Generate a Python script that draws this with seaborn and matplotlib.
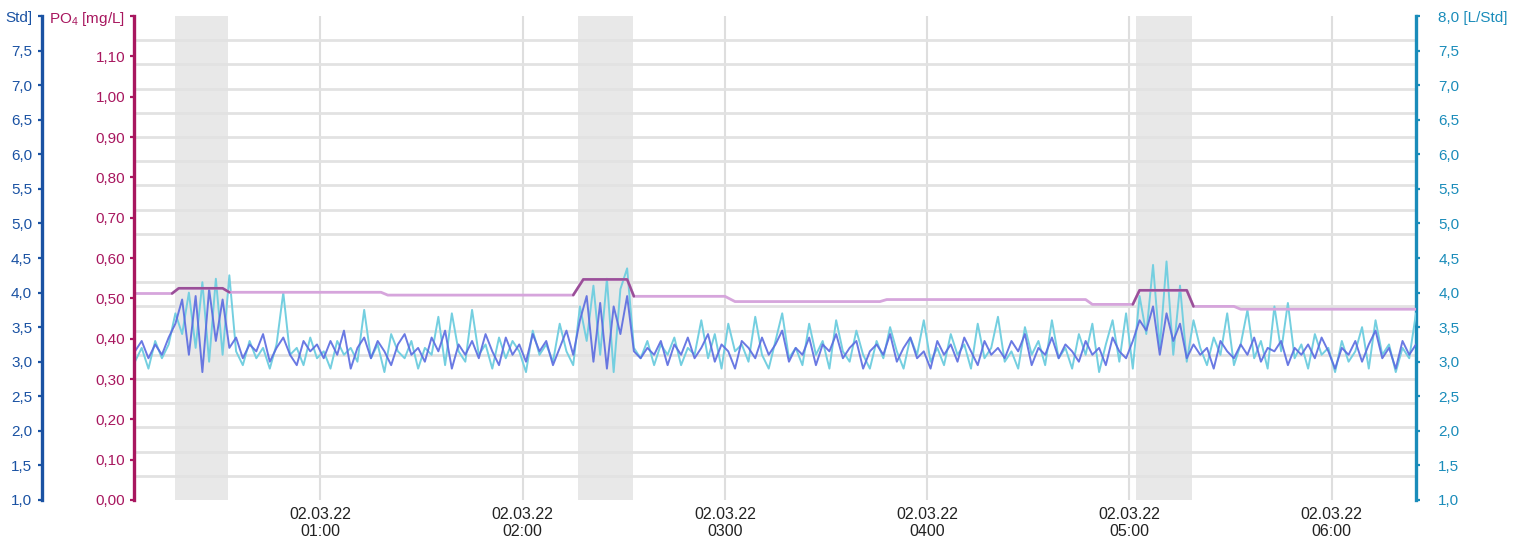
import numpy as np
import pandas as pd
import matplotlib
matplotlib.use("Agg")
import matplotlib.pyplot as plt
from matplotlib.ticker import FixedLocator, FuncFormatter
import seaborn as sns

# ---------------- data ----------------
day = "2022-03-02 "
x_tick_times = ["01:00", "02:00", "03:00", "04:00", "05:00", "06:00"]
x_tick_labels = ["02.03.22\n01:00", "02.03.22\n02:00", "02.03.22\n0300",
                 "02.03.22\n0400", "02.03.22\n05:00", "02.03.22\n06:00"]
x_start, x_end = "00:05", "06:25"

band_starts = ["00:17:00", "02:16:20", "05:02:00"]
band_ends = ["00:32:30", "02:32:40", "05:18:30"]

sample_start = "00:05"
sample_step = "2min"

# flow [L/Std], left axis (blue)
flow_blue = [
    3.15, 3.30, 3.05, 3.25, 3.10, 3.35, 3.55, 3.90, 3.10, 3.95,
    2.85, 4.05, 3.30, 3.90, 3.20, 3.35, 3.05, 3.25, 3.15, 3.40,
    3.00, 3.20, 3.35, 3.10, 2.95, 3.30, 3.15, 3.25, 3.05, 3.30,
    3.10, 3.45, 2.90, 3.20, 3.35, 3.05, 3.30, 3.15, 2.95, 3.25,
    3.40, 3.10, 3.20, 3.00, 3.35, 3.15, 3.45, 2.90, 3.25, 3.10,
    3.30, 3.05, 3.40, 3.15, 2.95, 3.35, 3.10, 3.25, 3.00, 3.40,
    3.15, 3.30, 2.95, 3.20, 3.45, 3.10, 3.60, 3.95, 3.00, 3.85,
    2.90, 3.80, 3.40, 3.95, 3.15, 3.05, 3.20, 3.10, 3.30, 2.95,
    3.25, 3.10, 3.35, 3.05, 3.20, 3.40, 3.00, 3.25, 3.15, 2.90,
    3.30, 3.20, 3.05, 3.35, 3.10, 3.25, 3.45, 3.00, 3.20, 3.10,
    3.35, 2.95, 3.25, 3.15, 3.40, 3.05, 3.20, 3.30, 2.90, 3.15,
    3.25, 3.10, 3.40, 3.00, 3.20, 3.35, 3.05, 3.15, 2.90, 3.30,
    3.10, 3.25, 3.00, 3.35, 3.15, 2.95, 3.30, 3.10, 3.20, 3.05,
    3.30, 3.15, 3.40, 2.95, 3.20, 3.10, 3.35, 3.05, 3.25, 3.15,
    3.00, 3.30, 3.10, 3.20, 2.95, 3.35, 3.15, 3.05, 3.30, 3.60,
    3.45, 3.80, 3.10, 3.70, 3.30, 3.55, 3.05, 3.25, 3.10, 3.20,
    2.90, 3.30, 3.15, 3.05, 3.25, 3.10, 3.35, 3.00, 3.20, 3.15,
    3.30, 2.95, 3.20, 3.10, 3.25, 3.05, 3.35, 3.15, 2.90, 3.20,
    3.10, 3.30, 3.00, 3.25, 3.45, 3.05, 3.20, 2.90, 3.30, 3.10,
    3.25,
]

# flow [L/Std], right axis (cyan)
flow_cyan = [
    3.00, 3.20, 2.90, 3.30, 3.05, 3.25, 3.70, 3.40, 4.00, 3.20,
    4.15, 3.00, 4.20, 3.10, 4.25, 3.15, 2.95, 3.30, 3.05, 3.20,
    2.90, 3.25, 4.00, 3.10, 3.20, 2.95, 3.35, 3.05, 3.15, 2.90,
    3.30, 3.10, 3.20, 3.00, 3.75, 3.05, 3.25, 2.85, 3.40, 3.15,
    3.05, 3.30, 2.90, 3.20, 3.10, 3.65, 2.95, 3.70, 3.15, 3.00,
    3.75, 3.10, 3.25, 2.90, 3.35, 3.05, 3.30, 3.15, 2.85, 3.45,
    3.10, 3.25, 3.00, 3.55, 3.15, 2.95, 3.80, 3.30, 4.10, 3.10,
    4.20, 2.85, 4.05, 4.35, 3.20, 3.05, 3.30, 2.95, 3.25, 3.10,
    3.35, 2.95, 3.20, 3.10, 3.60, 3.05, 3.40, 2.90, 3.55, 3.15,
    3.25, 3.00, 3.65, 3.10, 2.90, 3.30, 3.70, 3.05, 3.20, 2.95,
    3.55, 3.10, 3.30, 2.90, 3.60, 3.15, 3.00, 3.45, 3.10, 2.90,
    3.30, 3.05, 3.50, 3.15, 2.90, 3.35, 3.10, 3.60, 3.00, 3.20,
    2.95, 3.40, 3.10, 3.25, 2.90, 3.55, 3.05, 3.20, 3.65, 3.00,
    3.15, 2.90, 3.50, 3.10, 3.30, 2.95, 3.60, 3.05, 3.20, 2.90,
    3.40, 3.10, 3.55, 2.85, 3.25, 3.60, 3.00, 3.70, 2.90, 3.95,
    3.40, 4.40, 3.20, 4.45, 3.10, 4.10, 3.00, 3.60, 3.20, 2.95,
    3.35, 3.10, 3.70, 2.95, 3.25, 3.75, 3.05, 3.30, 2.90, 3.80,
    3.15, 3.85, 3.05, 3.25, 2.90, 3.40, 3.10, 3.20, 2.85, 3.30,
    3.00, 3.15, 3.50, 2.90, 3.60, 3.10, 3.25, 2.85, 3.20, 3.05,
    3.70,
]

# PO4 [mg/L]
po4_times = ["00:05", "00:16", "00:18", "00:31", "00:33", "01:18", "01:20",
             "02:15", "02:18", "02:31", "02:33", "03:00", "03:03", "03:46",
             "03:48", "04:47", "04:49", "05:01", "05:03", "05:17", "05:19",
             "05:31", "05:33", "06:25"]
po4_values = [0.512, 0.512, 0.525, 0.525, 0.515, 0.515, 0.508,
              0.508, 0.547, 0.547, 0.505, 0.505, 0.492, 0.492,
              0.497, 0.497, 0.485, 0.485, 0.520, 0.520, 0.480,
              0.480, 0.473, 0.473]

left_top_label = "Std]"
right_top_label = "8,0 [L/Std]"
po4_top_label = r"PO$_\mathregular{4}$ [mg/L]"

# ---------------- style ----------------
BLUE = "#1a52a3"
MAGENTA = "#a8175f"
CYAN = "#1a8cba"
LINE_BLUE = "#5a6be0"
LINE_CYAN = "#74cfe0"
LINE_PO4 = "#d6a5dc"
LINE_PO4_DARK = "#9a4f98"

sns.set_theme(style="white")
plt.rcParams["font.family"] = ["Liberation Sans", "DejaVu Sans"]
plt.rcParams["mathtext.fontset"] = "custom"
plt.rcParams["mathtext.rm"] = "Liberation Sans"
plt.rcParams["mathtext.it"] = "Liberation Sans:italic"
plt.rcParams["mathtext.bf"] = "Liberation Sans:bold"

T = lambda s: pd.Timestamp(day + s)

fig = plt.figure(figsize=(15.18, 5.43), dpi=100)
fig.patch.set_facecolor("white")
ax = fig.add_axes([0.0889, 0.0792, 0.8439, 0.8913])
ax_left = ax.twinx()
ax_po4 = ax.twinx()

times = pd.date_range(T(sample_start), periods=len(flow_blue), freq=sample_step)
df = pd.DataFrame({"time": times, "blue": flow_blue, "cyan": flow_cyan})
df_po4 = pd.DataFrame({"time": [T(t) for t in po4_times], "po4": po4_values})

# bands
for s, e in zip(band_starts, band_ends):
    ax.axvspan(T(s), T(e), color="#e6e6e6", alpha=0.9, lw=0, zorder=0.2)

sns.lineplot(data=df, x="time", y="cyan", ax=ax, color=LINE_CYAN, lw=1.4, zorder=3)
sns.lineplot(data=df, x="time", y="blue", ax=ax_left, color=LINE_BLUE, lw=1.4, alpha=0.9)
sns.lineplot(data=df_po4, x="time", y="po4", ax=ax_po4, color=LINE_PO4, lw=2.0)
for s, e in zip(band_starts, band_ends):
    m = (df_po4["time"] >= T(s) - pd.Timedelta("2min")) & (df_po4["time"] <= T(e) + pd.Timedelta("2min"))
    sns.lineplot(data=df_po4[m], x="time", y="po4", ax=ax_po4, color=LINE_PO4_DARK, lw=1.8)

for a in (ax, ax_left, ax_po4):
    a.set_xlabel("")
    a.set_ylabel("")
    for sp in a.spines.values():
        sp.set_visible(False)

ax.set_xlim(T(x_start), T(x_end))
ax.set_ylim(1, 8)
ax_left.set_ylim(1, 8)
ax_po4.set_ylim(0, 1.2)

# x axis
ax.set_xticks([T(t) for t in x_tick_times])
ax.set_xticklabels(x_tick_labels)
ax.tick_params(axis="x", length=0, pad=5, labelsize=11.5, labelcolor="#222222")
ax.grid(axis="x", which="major", color="#dedede", lw=1.5)

# grid lines horizontal
ax.yaxis.set_minor_locator(FixedLocator(np.linspace(1, 8, 21)))
ax.grid(axis="y", which="minor", color="#e2e2e2", lw=2.0)
ax.grid(axis="y", which="major", visible=False)
ax.set_axisbelow(True)

flow_ticks = np.arange(1.0, 8.01, 0.5)


def make_flow_fmt(top_label):
    def f(v, pos):
        if abs(v - 8.0) < 1e-6:
            return top_label
        return f"{v:.1f}".replace(".", ",")
    return f


def po4_fmt(v, pos):
    if abs(v - 1.2) < 1e-6:
        return po4_top_label
    return f"{v:.2f}".replace(".", ",")


LS = 11

# right axis (cyan)
ax.yaxis.tick_right()
ax.spines["right"].set_visible(True)
ax.spines["right"].set_color(CYAN)
ax.spines["right"].set_linewidth(2.4)
ax.set_yticks(flow_ticks)
ax.yaxis.set_major_formatter(FuncFormatter(make_flow_fmt(right_top_label)))
ax.tick_params(axis="y", which="major", direction="out", length=3, width=1.6,
               color=CYAN, labelcolor=CYAN, labelsize=LS, pad=13)
ax.tick_params(axis="y", which="minor", length=0)

# left outer axis (blue)
ax_left.yaxis.tick_left()
ax_left.spines["left"].set_visible(True)
ax_left.spines["left"].set_position(("axes", -0.0726))
ax_left.spines["left"].set_color(BLUE)
ax_left.spines["left"].set_linewidth(2.4)
ax_left.set_yticks(flow_ticks)
ax_left.yaxis.set_major_formatter(FuncFormatter(make_flow_fmt(left_top_label)))
ax_left.tick_params(axis="y", direction="out", length=3, width=1.6,
                    color=BLUE, labelcolor=BLUE, labelsize=LS, pad=4)

# PO4 axis (magenta)
ax_po4.yaxis.tick_left()
ax_po4.spines["left"].set_visible(True)
ax_po4.spines["left"].set_position(("outward", 1))
ax_po4.spines["left"].set_color(MAGENTA)
ax_po4.spines["left"].set_linewidth(2.4)
ax_po4.set_yticks(np.arange(0.0, 1.201, 0.1))
ax_po4.yaxis.set_major_formatter(FuncFormatter(po4_fmt))
ax_po4.tick_params(axis="y", direction="out", length=3, width=1.6,
                   color=MAGENTA, labelcolor=MAGENTA, labelsize=LS, pad=3)

fig.savefig("out.png", dpi=100, facecolor="white")
